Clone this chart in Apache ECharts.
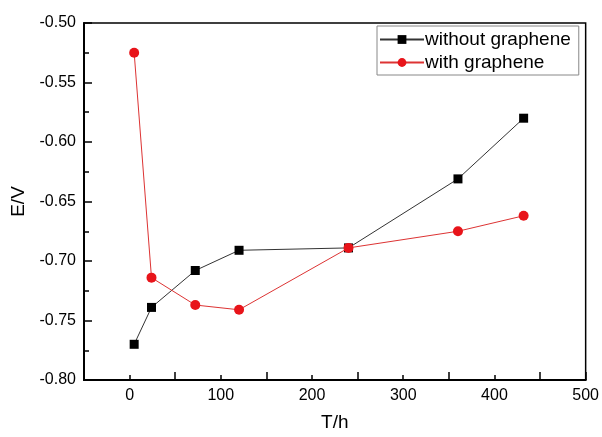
<!DOCTYPE html>
<html>
<head>
<meta charset="utf-8">
<script src="https://cdn.jsdelivr.net/npm/echarts@6/dist/echarts.min.js"></script>
<style>
  html, body { margin: 0; padding: 0; background: #fff; }
  #chart { width: 602px; height: 437px; }
</style>
</head>
<body>
<div id="chart"></div>
<script>
// time points (h)
const hours = [5, 24, 72, 120, 240, 360, 432]
// potential E/V
const withoutGraphene = [-0.770, -0.739, -0.708, -0.691, -0.689, -0.631, -0.580]
const withGraphene = [-0.525, -0.714, -0.737, -0.741, -0.689, -0.675, -0.662]

const toPairs = (xs, ys) => xs.map((x, i) => [x, ys[i]])

const font = 'Liberation Sans, Arial, sans-serif'

const chart = echarts.init(document.getElementById('chart'))

const option = {
  animation: false,
  backgroundColor: '#fff',
  grid: {
    left: 84,
    right: 15,
    top: 23,
    bottom: 53,
    show: true,
    borderColor: '#000',
    borderWidth: 1.5
  },
  legend: {
    left: 377,
    top: 26,
    orient: 'vertical',
    itemWidth: 44,
    itemHeight: 11,
    itemGap: 4,
    padding: [4, 8, 3, 2],
    borderColor: '#888',
    borderWidth: 1,
    textStyle: { fontFamily: font, fontSize: 19, color: '#000', padding: [0, 0, 0, -4] },
    data: ['without graphene', 'with graphene']
  },
  xAxis: {
    type: 'value',
    min: -50,
    max: 500,
    interval: 100,
    name: 'T/h',
    nameLocation: 'middle',
    nameGap: 33,
    nameTextStyle: { fontFamily: font, fontSize: 19, color: '#000' },
    axisLine: { onZero: false, lineStyle: { color: '#000', width: 2 } },
    axisTick: { inside: true, length: 8, lineStyle: { color: '#000', width: 1.5 } },
    minorTick: { show: true, splitNumber: 2, length: 5, lineStyle: { color: '#000', width: 1.5 } },
    axisLabel: {
      fontFamily: font, fontSize: 16, color: '#000', margin: 8,
      customValues: [0, 100, 200, 300, 400, 500]
    },
    splitLine: { show: false }
  },
  yAxis: {
    type: 'value',
    min: -0.8,
    max: -0.5,
    interval: 0.05,
    name: 'E/V',
    nameLocation: 'middle',
    nameGap: 56,
    nameTextStyle: { fontFamily: font, fontSize: 19, color: '#000' },
    axisLine: { onZero: false, lineStyle: { color: '#000', width: 2 } },
    axisTick: { inside: true, length: 8, lineStyle: { color: '#000', width: 1.5 } },
    minorTick: { show: true, splitNumber: 2, length: 5, lineStyle: { color: '#000', width: 1.5 } },
    axisLabel: {
      fontFamily: font, fontSize: 16, color: '#000', margin: 8,
      formatter: v => v.toFixed(2)
    },
    splitLine: { show: false }
  },
  series: [
    {
      name: 'without graphene',
      type: 'line',
      data: toPairs(hours, withoutGraphene),
      symbol: 'rect',
      symbolSize: 9,
      color: '#000',
      itemStyle: { color: '#000' },
      lineStyle: { color: '#333', width: 1 },
      z: 2
    },
    {
      name: 'with graphene',
      type: 'line',
      data: toPairs(hours, withGraphene),
      symbol: 'circle',
      symbolSize: 10,
      color: '#e8141a',
      itemStyle: { color: '#e8141a' },
      lineStyle: { color: '#d33', width: 1 },
      z: 3
    }
  ]
}

chart.setOption(option)
</script>
</body>
</html>
